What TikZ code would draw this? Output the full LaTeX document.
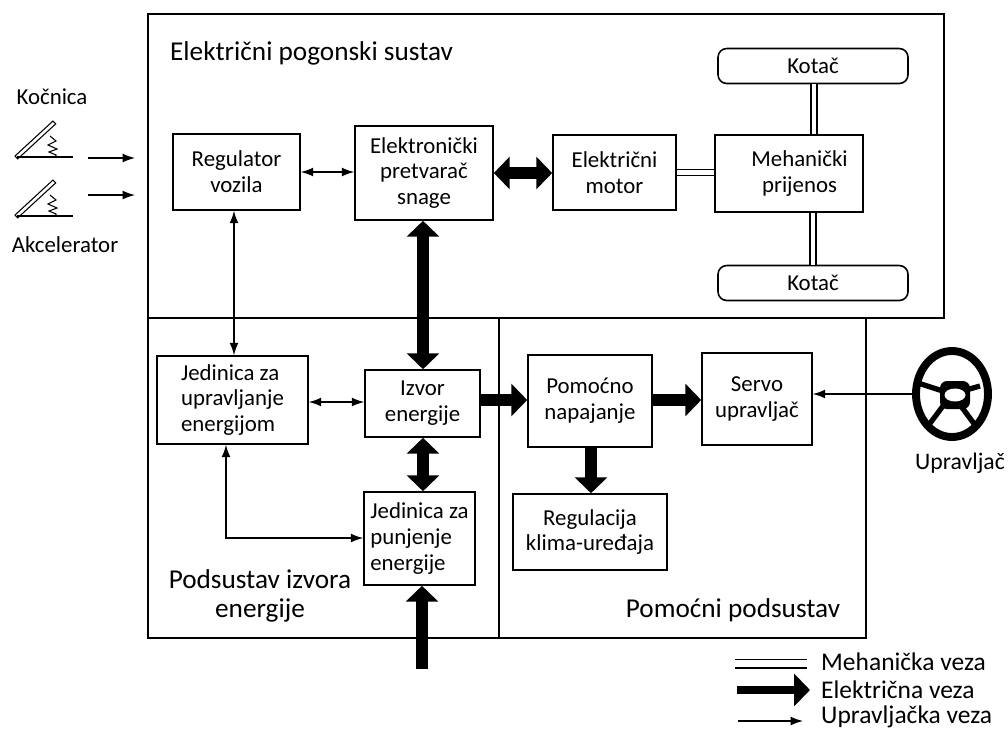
\documentclass[tikz,border=0pt]{standalone}
\usepackage{fontspec}
\setmainfont{Carlito}
\usetikzlibrary{arrows.meta}

\newcommand{\txt}{\fontsize{13}{14.7}\selectfont}
\newcommand{\naslov}{\fontsize{15.5}{16.5}\selectfont}
\tikzset{
  blok/.style 2 args={draw, line width=0.9pt, inner sep=0pt, align=center,
    font=\txt, minimum width=#1*0.02cm, minimum height=#2*0.02cm},
  kotac/.style={blok={190}{35}, rounded corners=5pt},
  ctl/.style={-{Latex[length=7pt,width=5pt]}, line width=0.7pt},
  ctl2/.style={{Latex[length=7pt,width=5pt]}-{Latex[length=7pt,width=5pt]}, line width=0.7pt},
  el/.style={-{Triangle[length=9pt,width=18pt]}, line width=6.8pt},
  el2/.style={{Triangle[length=9pt,width=18pt]}-{Triangle[length=9pt,width=18pt]}, line width=6.8pt},
  mech/.style={double, double distance=2.8pt, line width=0.6pt}
}

\begin{document}
\begin{tikzpicture}[x=0.02cm, y=-0.02cm]
  \useasboundingbox (0,0) rectangle (1008,728);

  % Subsystems
  \draw[line width=0.9pt] (148,14) rectangle (944,318);
  \draw[line width=0.9pt] (148,318) rectangle (499,638);
  \draw[line width=0.9pt] (499,318) rectangle (866,638);
  \node[font=\naslov, anchor=west] (tPogon) at (164,53) {Električni pogonski sustav};
  \node[font=\naslov, align=center] (tIzvor) at (260,596) {Podsustav izvora\\energije};
  \node[font=\naslov] (tPomoc) at (733,610) {Pomoćni podsustav};

  % Blocks
  \node[blok={127}{76}] (reg) at (236.5,172) {Regulator\\vozila};
  \node[blok={138}{94}] (pret) at (424,173) {Elektronički\\pretvarač\\snage};
  \node[blok={123}{75}] (motor) at (614.5,172.5) {Električni\\motor};
  \node[blok={148}{77}] (prijenos) at (789,173.5) {\hspace*{12pt}Mehanički\\\hspace*{12pt}prijenos};
  \node[kotac] (kotacA) at (813,66) {Kotač};
  \node[kotac] (kotacB) at (813,283) {Kotač};
  \node[blok={151}{88}, align=left] (upr) at (232.5,400) {Jedinica za\\upravljanje\\energijom};
  \node[blok={115}{67}] (izvor) at (422.5,403.5) {Izvor\\energije};
  \node[blok={111}{93}, align=left] (punj) at (419.5,538.5) {Jedinica za\\punjenje\\energije};
  \node[blok={124}{92}] (napaj) at (590,401) {Pomoćno\\napajanje};
  \node[blok={110}{92}] (servo) at (757,399) {Servo\\upravljač};
  \node[blok={154}{76}] (klima) at (590,532) {Regulacija\\klima-uređaja};

  % Pedals
  \foreach \dy/\n in {0/kocnica, 59/akcel} {
    \draw[line width=0.7pt] (17,157+\dy) -- (73,157+\dy);
    \draw[line width=0.6pt] (15,156+\dy) -- (53,121+\dy) -- (55.7,123.9+\dy) -- (17.7,158.9+\dy) -- cycle;
    \draw[line width=0.6pt] (50,136+\dy) -- (56,141+\dy) -- (48,145+\dy) -- (57,149+\dy)
      -- (49,152+\dy) -- (56,155+\dy) -- (56,157+\dy);
  }
  \node[font=\txt] (kocnica) at (52,97) {Kočnica};
  \node[font=\txt] (akcel) at (65,245) {Akcelerator};
  \coordinate (kA) at (88,158);
  \coordinate (kB) at (135,158);
  \coordinate (aA) at (88,195);
  \coordinate (aB) at (135,195);
  \draw[ctl] (kA) -- (kB);
  \draw[ctl] (aA) -- (aB);

  % Steering wheel
  \coordinate (volan) at (952,394);
  \coordinate (volanL) at (912,394);
  \draw[line width=3pt] (volan) -- (918,383);
  \draw[line width=3pt] (volan) -- (980,386);
  \draw[line width=3pt] (volan) -- (928,426);
  \draw[line width=3pt] (volan) -- (975,425);
  \fill[rounded corners=4pt] (940,381) rectangle (970,409);
  \fill[white] (955,395) ellipse (10.5 and 6.5);
  \draw[line width=4.5pt] (volan) ellipse (36 and 43);
  \node[font=\fontsize{13.5}{15}\selectfont] (upravljac) at (960,463) {Upravljač};

  % Control links
  \draw[ctl2] (reg.east) -- (reg.east -| pret.west);
  \draw[ctl2] (upr.north -| 234,0) -- (reg.south -| 234,0);
  \draw[ctl2] (upr.east |- 0,402) -- (izvor.west |- 0,402);
  \draw[ctl2] (upr.south -| 226,0) |- (punj.west |- 0,538);
  \draw[ctl] (volanL) -- (servo.east |- volanL);

  % Electric links
  \coordinate (ulaz) at (422,669);
  \draw[el2] (pret.east) -- (motor.west |- pret.east);
  \draw[el2] (izvor.north -| 423,0) -- (pret.south -| 423,0);
  \draw[el2] (izvor.south -| 423,0) -- (punj.north -| 423,0);
  \draw[el] (ulaz) -- (punj.south -| ulaz);
  \draw[el] (izvor.east |- 0,400) -- (napaj.west |- 0,400);
  \draw[el] (napaj.east |- 0,400) -- (servo.west |- 0,400);
  \draw[el] (napaj.south -| 591,0) -- (klima.north -| 591,0);

  % Mechanical links
  \draw[mech] (motor.east |- 0,172.5) -- (prijenos.west |- 0,172.5);
  \draw[mech] (kotacA.south -| 814,0) -- (prijenos.north -| 814,0);
  \draw[mech] (prijenos.south -| 813,0) -- (kotacB.north -| 813,0);

  % Legend
  \coordinate (lm1) at (735,663.5);
  \coordinate (lm2) at (807,663.5);
  \coordinate (le1) at (737,690);
  \coordinate (le2) at (810,690);
  \coordinate (lc1) at (738,721);
  \coordinate (lc2) at (803,721);
  \draw[mech, double distance=4.5pt] (lm1) -- (lm2);
  \draw[el, line width=5pt] (le1) -- (le2);
  \draw[ctl] (lc1) -- (lc2);
  \node[font=\fontsize{14.5}{15}\selectfont, anchor=west] (legMeh) at (815,662) {Mehanička veza};
  \node[font=\fontsize{14.5}{15}\selectfont, anchor=west] (legEl) at (815,690) {Električna veza};
  \node[font=\fontsize{14.5}{15}\selectfont, anchor=west] (legUpr) at (815,717) {Upravljačka veza};
\end{tikzpicture}
\end{document}
